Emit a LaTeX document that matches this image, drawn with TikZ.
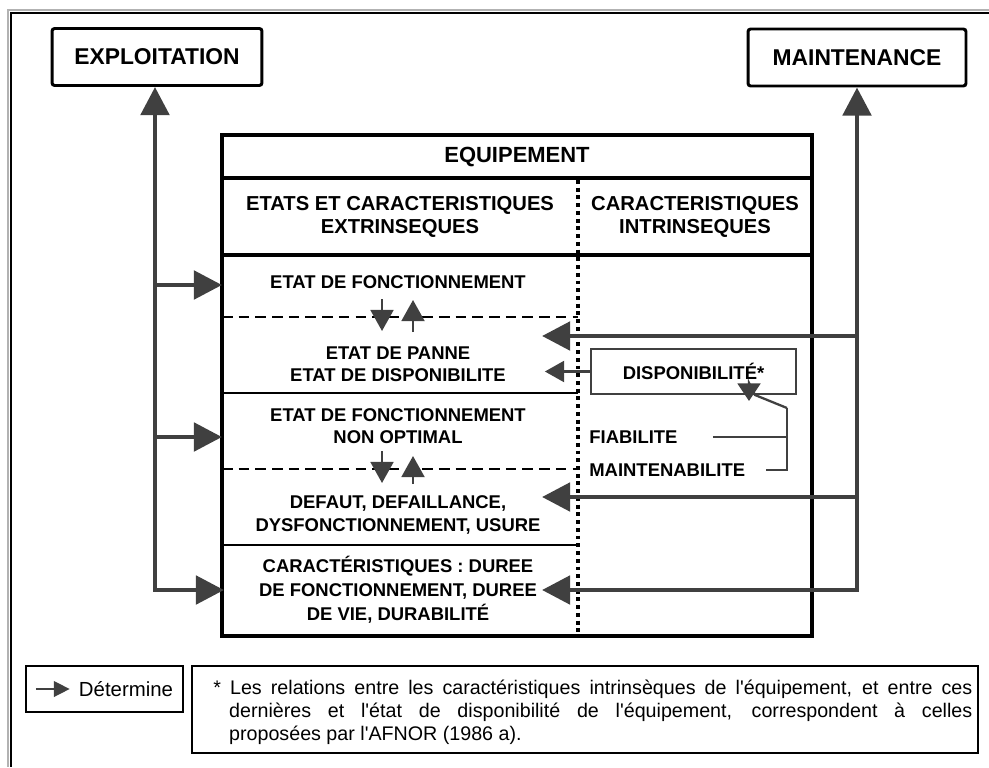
\documentclass[tikz,border=0pt]{standalone}
\usepackage{fontspec}
\setmainfont{Liberation Sans}[Ligatures=TeXOff]
\usetikzlibrary{arrows.meta}

\definecolor{arrowgray}{gray}{0.25}

\tikzset{
  titlebox/.style={draw,line width=1.7pt,rounded corners=1.5pt,
    font=\fontsize{13}{15}\selectfont\bfseries,minimum height=1.14cm},
  bigarrow/.style={arrowgray,line width=2.8pt},
  smallarrow/.style={arrowgray,line width=1.4pt,-{Triangle[length=12pt,width=13pt]}},
  thinarrow/.style={arrowgray,line width=1.3pt,-{Triangle[length=11pt,width=12pt]}},
  link/.style={arrowgray,line width=1.3pt},
  sepline/.style={line width=1.4pt},
  dashline/.style={line width=1.4pt,dash pattern=on 6pt off 3.5pt},
  dotline/.style={line width=2.2pt,dash pattern=on 2.2pt off 2.2pt}
}

\begin{document}
\begin{tikzpicture}
[x=0.02cm,y=-0.02cm,>={Triangle[length=16pt,width=16pt]},
 every node/.style={font=\fontsize{10.5}{12.8}\selectfont\bfseries,align=center,inner sep=0pt}]
\useasboundingbox (0,0) rectangle (989,767);

% frame
\draw[gray!60,line width=1.4pt] (989,10) -- (8,10) -- (8,767);
\draw[line width=1pt] (989,13) -- (11,13) -- (11,767);

% top boxes
\node[titlebox,minimum width=4.2cm] (expl) at (157,57) {EXPLOITATION};
\node[titlebox,minimum width=4.36cm] (maint) at (857,57.5) {MAINTENANCE};

% equipement table
\draw[line width=2.3pt] (222,135) rectangle (812,636);
\draw[line width=2.3pt] (222,178) -- (812,178);
\draw[line width=2.3pt] (222,255) -- (812,255);
\draw[dotline] (578,180) -- (578,636);
\draw[dashline] (222,317) -- (578,317);
\draw[sepline] (222,393) -- (578,393);
\draw[dashline] (222,469) -- (578,469);
\draw[sepline] (222,545) -- (578,545);

\node[font=\fontsize{12.5}{15}\selectfont\bfseries] (equip) at (517,157) {EQUIPEMENT};
\node[font=\fontsize{11.5}{13.4}\selectfont\bfseries] (extr) at (400,217) {ETATS ET CARACTERISTIQUES\\EXTRINSEQUES};
\node[font=\fontsize{11.5}{13.4}\selectfont\bfseries] (intr) at (695,217) {CARACTERISTIQUES\\INTRINSEQUES};

\node (s1) at (398,282) {ETAT DE FONCTIONNEMENT};
\node (s2) at (398,364) {ETAT DE PANNE\\ETAT DE DISPONIBILITE};
\node (s3) at (398,426) {ETAT DE FONCTIONNEMENT\\NON OPTIMAL};
\node (s4) at (398,515) {DEFAUT, DEFAILLANCE,\\DYSFONCTIONNEMENT, USURE};
\node[font=\fontsize{10.5}{13.6}\selectfont\bfseries] (s5) at (398,590) {CARACTÉRISTIQUES : DUREE\\DE FONCTIONNEMENT, DUREE\\DE VIE, DURABILITÉ};

% state changes
\coordinate (dl1) at (397,317);
\coordinate (dl2) at (397,469);
\draw[smallarrow] (dl1) ++(-15,-18) -- ++(0,32);
\draw[smallarrow] (dl1) ++(16,15) -- ++(0,-32);
\draw[smallarrow] (dl2) ++(-15,-18) -- ++(0,32);
\draw[smallarrow] (dl2) ++(16,15) -- ++(0,-28);

% intrinsic characteristics
\node[draw=arrowgray,line width=1.3pt,minimum width=4.1cm,minimum height=0.9cm] (dispo) at (693.5,371.5) {DISPONIBILITÉ*};
\node[anchor=west] (fiab) at (589,437) {FIABILITE};
\node[anchor=west] (mtb) at (589,470) {MAINTENABILITE};
\coordinate (fork) at (787,408);
\draw[thinarrow] (dispo.west) -- ++(-45,0);
\draw[link] ([xshift=0.7cm]fiab.east) -- (fiab.east -| fork);
\draw[link] ([xshift=0.42cm]mtb.east) -- (mtb.east -| fork) -- (fork);
\draw[link,-{Triangle[length=10pt,width=13pt]}] (fork) -- (755,395) -- (749,383) -- (749,401);

% exploitation side
\coordinate (lt) at (155,590);
\coordinate (a1) at (222,285);
\coordinate (a2) at (222,437);
\coordinate (a3) at (224,590);
\draw[bigarrow,<->] (lt |- expl.south) -- (lt) -- (a3);
\draw[bigarrow,->] (lt |- a1) -- (a1);
\draw[bigarrow,->] (lt |- a2) -- (a2);

% maintenance side
\coordinate (rt) at (857,590);
\coordinate (r1) at (542,336);
\coordinate (r2) at (542,497);
\coordinate (r3) at (542,590);
\draw[bigarrow,<->] (rt |- maint.south) -- (rt) -- (r3);
\draw[bigarrow,->] (rt |- r1) -- (r1);
\draw[bigarrow,->] (rt |- r2) -- (r2);

% legend
\node[draw,line width=1.3pt,minimum width=3.14cm,minimum height=0.92cm] (leg) at (104.5,689) {};
\node[font=\fontsize{11.6}{13}\selectfont] (det) at (126,689) {Détermine};
\draw[arrowgray,line width=0.8pt,-{Triangle[length=9pt,width=9pt]}] ([xshift=0.22cm]leg.west) -- ([xshift=-0.18cm]det.west);
\node[draw,line width=1pt,minimum width=15.72cm,minimum height=1.74cm] (note) at (585,709.5) {};
\node[anchor=west,align=left,font=\fontsize{11.2}{13.1}\selectfont] (notetxt) at (213,712)
  {\makebox[432pt][s]{* Les relations entre les caractéristiques intrinsèques de l'équipement, et entre ces}\\
   \hspace*{9pt}\makebox[423pt][s]{dernières et l'état de disponibilité de l'équipement, correspondent à celles}\\
   \hspace*{9pt}proposées par l'AFNOR (1986 a).};
\end{tikzpicture}
\end{document}
